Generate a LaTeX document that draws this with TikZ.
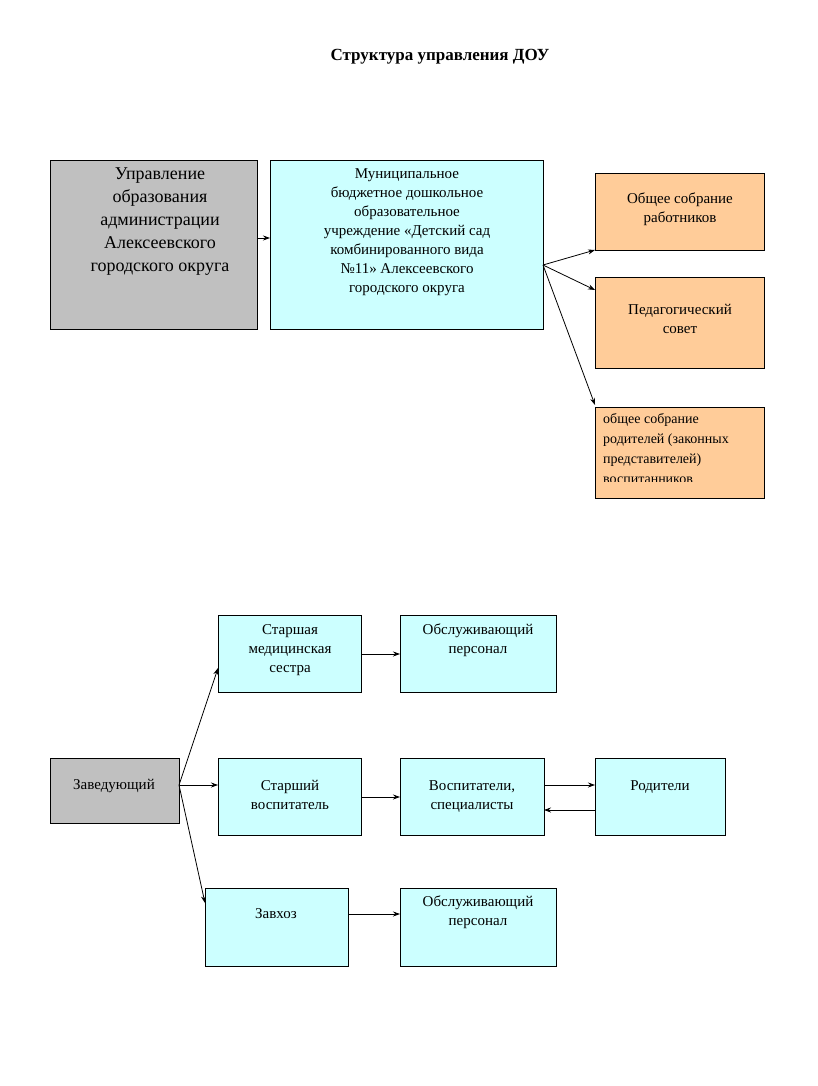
\documentclass[tikz,border=0pt]{standalone}
\usepackage{fontspec}
\setmainfont{Liberation Serif}
\usetikzlibrary{arrows.meta}
\begin{document}
\begin{tikzpicture}[x=1pt,y=-1pt,
 box/.style={draw=black,line width=0.8pt},
 t/.style={align=center,font=\fontsize{15}{19}\selectfont,inner sep=0pt,anchor=north},
 ar/.style={-{Stealth[length=7pt,width=5pt]},line width=0.8pt}]
\useasboundingbox (0,0) rectangle (817,1086);
\definecolor{gr}{HTML}{C0C0C0}\definecolor{cy}{HTML}{CCFFFF}\definecolor{or}{HTML}{FFCC99}
\node[font=\bfseries\fontsize{17}{20}\selectfont] (title) at (440,57) {Структура управления ДОУ};
\draw[box,fill=gr] (50,160) rectangle (257,329) coordinate (A);
\node[t,font=\fontsize{18}{23}\selectfont] (At) at (160,168) {Управление\\образования\\администрации\\Алексеевского\\городского округа};
\draw[box,fill=cy] (270,160) rectangle (543,329);
\node[t] (Bt) at (407,168) {Муниципальное\\бюджетное  дошкольное\\образовательное\\учреждение «Детский сад\\комбинированного вида\\№11» Алексеевского\\городского округа};
\draw[box,fill=or] (595,173) rectangle (764,250);
\node[t] at (680,193) {Общее собрание\\работников};
\draw[box,fill=or] (595,277) rectangle (764,368);
\node[t] at (680,304) {Педагогический\\совет};
\draw[box,fill=or] (595,407) rectangle (764,498);
\begin{scope}
\clip (596,408) rectangle (763,481);
\node[t,anchor=north west,align=left,font=\fontsize{14}{20}\selectfont] at (603,413) {общее собрание\\родителей (законных\\представителей)\\воспитанников};
\end{scope}
\coordinate (b1) at (257,238); \coordinate (b2) at (270,238);
\draw[ar] (b1) -- (b2);
\coordinate (bo) at (543,265);
\coordinate (o1) at (595,250); \coordinate (o2) at (595,290); \coordinate (o3) at (595,405);
\draw[ar] (bo) -- (o1); \draw[ar] (bo) -- (o2); \draw[ar] (bo) -- (o3);
% lower
\draw[box,fill=gr] (50,758) rectangle (179,823);
\node[t] at (114,779) {Заведующий};
\draw[box,fill=cy] (218,615) rectangle (361,692);
\node[t] at (290,624) {Старшая\\медицинская\\сестра};
\draw[box,fill=cy] (400,615) rectangle (556,692);
\node[t] at (478,624) {Обслуживающий\\персонал};
\draw[box,fill=cy] (218,758) rectangle (361,835);
\node[t] at (290,780) {Старший\\воспитатель};
\draw[box,fill=cy] (400,758) rectangle (544,835);
\node[t] at (472,780) {Воспитатели,\\специалисты};
\draw[box,fill=cy] (595,758) rectangle (725,835);
\node[t] at (660,780) {Родители};
\draw[box,fill=cy] (205,888) rectangle (348,966);
\node[t] at (276,908) {Завхоз};
\draw[box,fill=cy] (400,888) rectangle (556,966);
\node[t] at (478,896) {Обслуживающий\\персонал};
\coordinate (z) at (179,785);
\draw[ar] (z) -- (218,668); \draw[ar] (z) -- (218,785); \draw[ar] (z) -- (205,903);
\draw[ar] (361,654) -- (400,654);
\draw[ar] (361,797) -- (400,797);
\draw[ar] (544,785) -- (595,785);
\draw[ar] (595,810) -- (544,810);
\draw[ar] (348,914) -- (400,914);
\end{tikzpicture}
\end{document}
